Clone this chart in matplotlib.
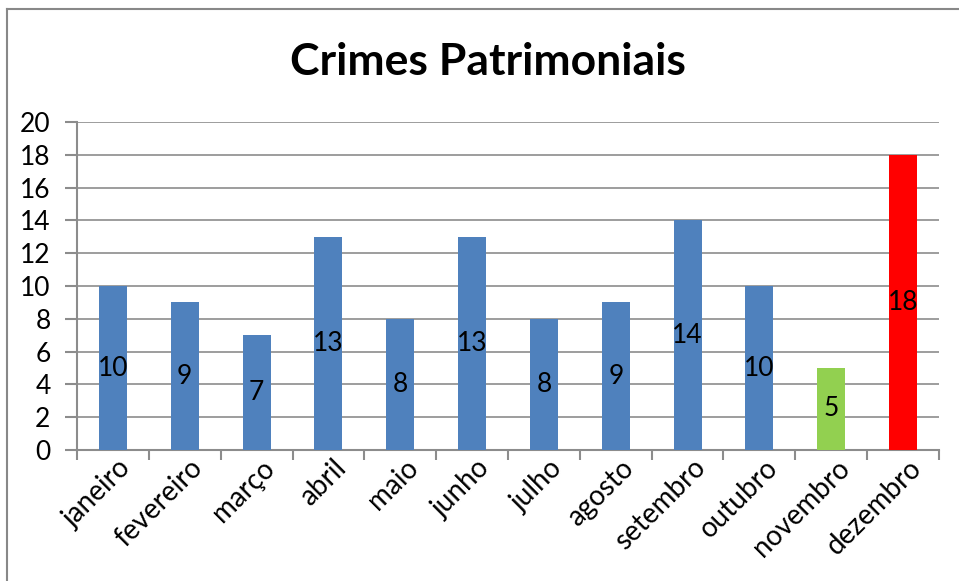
import matplotlib.pyplot as plt
from matplotlib.lines import Line2D
from matplotlib.transforms import ScaledTranslation

months = ["janeiro", "fevereiro", "março", "abril", "maio", "junho",
          "julho", "agosto", "setembro", "outubro", "novembro", "dezembro"]
crimes = [10, 9, 7, 13, 8, 13, 8, 9, 14, 10, 5, 18]
bar_colors = ["#4f81bd"] * 10 + ["#92d050", "#ff0000"]

plt.rcParams["font.family"] = ["Lato", "DejaVu Sans"]

W, H = 959, 581
fig = plt.figure(figsize=(W / 100, H / 100), dpi=100)
ax = fig.add_axes([77 / W, 1 - 450 / H, (939 - 77) / W, (450 - 122) / H])

x = list(range(len(months)))
ax.bar(x, crimes, width=0.39, color=bar_colors, zorder=3)

# value labels in the middle of each bar
for xi, v in zip(x, crimes):
    ax.text(xi, v / 2, str(v), ha="center", va="center", fontsize=19, zorder=4)

ax.set_xlim(-0.5, len(months) - 0.5)
ax.set_ylim(0, 20)
ax.set_yticks(range(0, 21, 2))
ax.yaxis.grid(True, color="#8c8c8c", linewidth=1.2, zorder=0)

ax.set_xticks([i - 0.5 for i in range(len(months) + 1)], minor=False)
ax.set_xticklabels([])
ax.set_xticks(x, minor=True)
ax.set_xticklabels(months, minor=True, rotation=45, ha="right", va="center",
                   rotation_mode="anchor", fontsize=20)
ax.tick_params(axis="x", which="minor", length=0, pad=10)
ax.tick_params(axis="x", which="major", length=7, width=1.5, color="#8c8c8c")
ax.tick_params(axis="y", length=9, width=1.5, color="#8c8c8c", labelsize=19, pad=10)

# nudge month labels to the right like the original
shift = ScaledTranslation(14 / 100, 0, fig.dpi_scale_trans)
for lbl in ax.get_xticklabels(minor=True):
    lbl.set_transform(lbl.get_transform() + shift)

for side in ["top", "right"]:
    ax.spines[side].set_visible(False)
for side in ["left", "bottom"]:
    ax.spines[side].set_color("#8c8c8c")
    ax.spines[side].set_linewidth(1.5)

fig.text(488 / W, 1 - 62 / H, "Crimes Patrimoniais", ha="center", va="center",
         fontsize=32, fontweight="bold")

# outer border of the chart area
fig.add_artist(Line2D([7 / W, 1], [1 - 9 / H, 1 - 9 / H], color="#888888", linewidth=1.5,
                      transform=fig.transFigure))
fig.add_artist(Line2D([7 / W, 7 / W], [0, 1 - 9 / H], color="#888888", linewidth=1.5,
                      transform=fig.transFigure))

fig.savefig("out.png", dpi=100, facecolor="white")
